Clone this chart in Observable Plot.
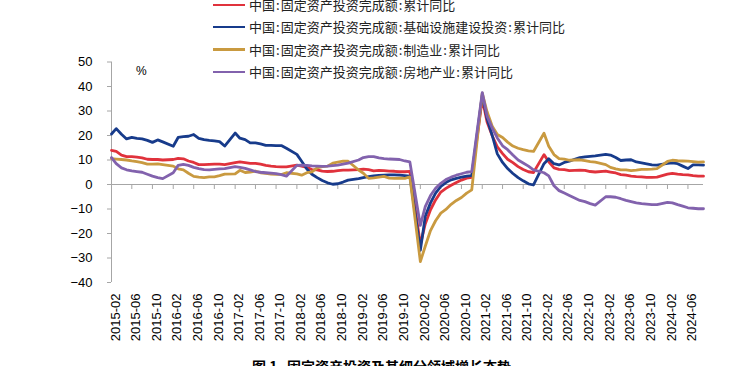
<!DOCTYPE html>
<html><head><meta charset="utf-8">
<script src="https://cdn.jsdelivr.net/npm/d3@7"></script>
<script src="https://cdn.jsdelivr.net/npm/@observablehq/plot@0.6"></script>
<style>
html,body{margin:0;padding:0;background:#fff;overflow:hidden;width:732px;height:366px;}
#wrap{position:relative;width:732px;height:366px;overflow:hidden;}
#chart{position:absolute;left:0;top:0;}
.legend{position:absolute;left:213px;top:0;font-family:"Noto Sans CJK SC",sans-serif;font-size:13px;color:#222;}
.row{position:absolute;left:0;height:14px;line-height:14px;white-space:nowrap;display:flex;align-items:center;}
.swatch{width:32px;height:2.5px;margin-right:4px;}
.colon{margin:0 1px;}
.unit{position:absolute;left:136px;top:64px;font-family:"Liberation Sans",Arial,sans-serif;font-size:12px;color:#000;}
.caption{position:absolute;left:252px;top:359px;font-family:"Noto Sans CJK SC",sans-serif;font-weight:bold;font-size:14px;line-height:14px;white-space:pre;color:#000;}
</style></head>
<body><div id="wrap"><div id="chart"></div></div>
<script>
// series names and colours
const seriesNames = [
  "中国:固定资产投资完成额:累计同比",
  "中国:固定资产投资完成额:基础设施建设投资:累计同比",
  "中国:固定资产投资完成额:制造业:累计同比",
  "中国:固定资产投资完成额:房地产业:累计同比"
];
const seriesColors = ["#e0323c", "#173b8b", "#c99a40", "#8262ad"];

// monthly values Feb..Dec per year (2024: Feb..Sep)
const total = [
  13.9, 13.5, 12.0, 11.4, 11.4, 11.2, 10.9, 10.3, 10.2, 10.2, 10.0,
  10.2, 10.7, 10.5, 9.6, 9.0, 8.1, 8.1, 8.2, 8.3, 8.3, 8.1,
  8.9, 9.2, 8.9, 8.6, 8.6, 8.3, 7.8, 7.5, 7.3, 7.2, 7.2,
  7.9, 7.5, 7.0, 6.1, 6.0, 5.5, 5.3, 5.4, 5.7, 5.9, 5.9,
  6.1, 6.3, 6.1, 5.6, 5.8, 5.7, 5.5, 5.4, 5.2, 5.2, 5.4,
  -24.5, -16.1, -10.3, -6.3, -3.1, -1.6, -0.3, 0.8, 1.8, 2.6, 2.9,
  35.0, 25.6, 19.9, 15.4, 12.6, 10.3, 8.9, 7.3, 6.1, 5.2, 4.9,
  12.2, 9.3, 6.8, 6.2, 6.1, 5.7, 5.8, 5.9, 5.8, 5.3, 5.1,
  5.5, 5.1, 4.7, 4.0, 3.8, 3.4, 3.2, 3.1, 2.9, 2.9, 3.0,
  4.2, 4.5, 4.2, 4.0, 3.9, 3.6, 3.4, 3.4
];
const infra = [
  20.6, 22.8, 20.5, 18.6, 19.2, 18.8, 18.6, 18.0, 17.2, 18.2, 17.4,
  15.6, 19.2, 19.5, 19.7, 20.4, 18.8, 18.3, 18.0, 17.8, 17.5, 15.7,
  21.0, 18.9, 18.3, 17.0, 17.0, 16.6, 16.0, 16.0, 15.9, 15.9, 14.8,
  12.3, 9.5, 6.3, 4.2, 2.8, 1.6, 0.7, 0.1, 0.3, 1.0, 1.8,
  2.4, 2.8, 3.2, 3.5, 3.7, 3.8, 3.9, 3.9, 3.8, 3.6, 3.4,
  -26.9, -13.0, -7.5, -3.5, -0.8, 0.8, 1.9, 2.5, 3.0, 3.4, 3.6,
  36.6, 27.0, 20.0, 12.5, 9.0, 6.5, 4.5, 2.8, 1.5, 0.3, -0.2,
  8.5, 10.5, 8.5, 8.0, 9.0, 9.5, 10.3, 11.0, 11.3, 11.5, 11.7,
  12.3, 12.0, 11.0, 9.8, 10.0, 10.1, 9.2, 8.8, 8.4, 8.0, 7.9,
  8.6, 8.8, 8.5, 7.5, 6.5, 8.0, 8.0, 7.9
];
const manufacturing = [
  10.6, 10.4, 10.2, 10.0, 9.6, 9.3, 8.9, 8.3, 8.3, 8.4, 8.1,
  7.5, 6.4, 6.0, 4.6, 3.3, 3.0, 2.8, 3.1, 3.1, 3.6, 4.2,
  4.3, 5.8, 4.9, 5.1, 5.5, 4.8, 4.5, 4.2, 4.1, 4.1, 4.8,
  4.3, 3.8, 4.8, 5.2, 6.8, 7.3, 7.5, 8.7, 9.1, 9.5, 9.5,
  5.9, 4.6, 2.5, 2.7, 3.0, 3.3, 2.6, 2.5, 2.6, 2.5, 3.1,
  -31.5, -25.2, -18.8, -14.8, -11.7, -10.2, -8.1, -6.5, -5.3, -3.5, -2.2,
  37.3, 29.8, 23.8, 20.4, 19.2, 17.3, 15.7, 14.8, 14.2, 13.7, 13.5,
  20.9, 15.6, 12.2, 10.6, 10.4, 9.9, 10.0, 10.1, 9.7, 9.3, 9.1,
  8.1, 7.0, 6.4, 6.0, 6.0, 5.7, 5.9, 6.2, 6.2, 6.3, 6.5,
  9.4, 9.9, 9.7, 9.6, 9.5, 9.3, 9.1, 9.2
];
const realEstate = [
  11.0, 8.5, 6.8, 6.0, 5.6, 5.3, 5.0, 4.2, 3.4, 2.8, 2.4,
  4.8, 7.8, 8.2, 7.8, 7.0, 6.5, 6.1, 6.0, 6.2, 6.4, 6.5,
  7.3, 7.0, 6.6, 6.0, 5.3, 5.0, 4.8, 4.6, 4.4, 4.0, 3.4,
  7.8, 7.9, 7.8, 7.6, 7.5, 7.4, 7.5, 7.7, 7.9, 8.3, 8.7,
  10.0, 11.0, 11.4, 11.4, 10.9, 10.6, 10.4, 10.3, 10.2, 9.6, 9.2,
  -16.7, -9.0, -4.5, -1.5, 0.5, 2.0, 3.0, 3.8, 4.4, 5.0, 5.3,
  37.5, 28.0, 23.0, 19.0, 15.8, 14.2, 12.0, 10.0, 8.8, 7.5, 6.0,
  4.8, 3.5, -0.5, -2.5, -3.5, -4.5, -5.5, -6.5, -7.0, -7.8, -8.4,
  -5.0, -5.0, -5.2, -5.8, -6.5, -7.0, -7.5, -7.8, -8.0, -8.2, -8.2,
  -7.3, -7.5, -8.2, -8.8, -9.5, -9.7, -9.9, -9.9
];
const yTicks = [-40, -30, -20, -10, 0, 10, 20, 30, 40, 50];

// months: 2015-02 .. 2024-09, January not published
const dates = d3.utcMonth.range(new Date(Date.UTC(2015, 1, 1)), new Date(Date.UTC(2024, 9, 1)))
  .filter(d => d.getUTCMonth() !== 0);
const xTicks = d3.utcMonth.range(new Date(Date.UTC(2015, 1, 1)), new Date(Date.UTC(2024, 6, 1)))
  .filter((d, i) => i % 4 === 0);

const allSeries = [total, infra, manufacturing, realEstate];
const tables = allSeries.map(vals => vals.map((v, i) => ({date: dates[i], value: v})));

const fmt = d3.format("d");
const chart = Plot.plot({
  width: 732,
  height: 366,
  marginTop: 61.5,
  marginBottom: 84,
  marginLeft: 111,
  marginRight: 29,
  style: {fontFamily: "'Liberation Sans', Arial, sans-serif", fontSize: "13px", color: "#000", background: "transparent", overflow: "visible"},
  x: {type: "utc", domain: [dates[0], dates[dates.length - 1]]},
  y: {domain: [-40, 50]},
  marks: [
    Plot.ruleY([0], {stroke: "#a6a6a6", strokeWidth: 1}),
    Plot.ruleX(xTicks, {x: d => d, y1: 0, y2: 0, insetBottom: -5, stroke: "#a6a6a6"}),
    Plot.ruleX([dates[0]], {stroke: "#a6a6a6"}),
    Plot.axisY({ticks: yTicks, tickSize: 4, tickPadding: 15, stroke: "#a6a6a6", fill: "#000", tickFormat: d => fmt(d), label: null}),
    Plot.axisX({ticks: xTicks, anchor: "bottom", tickSize: 0, tickPadding: 11, tickRotate: -90, dx: 4, fill: "#000", tickFormat: d3.utcFormat("%Y-%m"), label: null}),
    ...tables.map((t, k) => Plot.line(t, {x: "date", y: "value", stroke: seriesColors[k], strokeWidth: 2.8, strokeLinejoin: "round", strokeLinecap: "round"}))
  ]
});
const wrap = document.getElementById("wrap");
document.getElementById("chart").appendChild(chart);

// legend
const legend = document.createElement("div");
legend.className = "legend";
const rowCenters = [5, 27, 49.5, 72];
seriesNames.forEach((name, k) => {
  const row = document.createElement("div");
  row.className = "row";
  row.style.top = (rowCenters[k] - 7) + "px";
  const sw = document.createElement("span");
  sw.className = "swatch";
  sw.style.background = seriesColors[k];
  const tx = document.createElement("span");
  name.split(":").forEach((part, j) => {
    if (j > 0) {
      const c = document.createElement("span");
      c.className = "colon";
      c.textContent = ":";
      tx.appendChild(c);
    }
    tx.appendChild(document.createTextNode(part));
  });
  row.appendChild(sw);
  row.appendChild(tx);
  legend.appendChild(row);
});
wrap.appendChild(legend);

const unit = document.createElement("div");
unit.className = "unit";
unit.textContent = "%";
wrap.appendChild(unit);

const cap = document.createElement("div");
cap.className = "caption";
cap.textContent = "图 1   固定资产投资及其细分领域增长态势";
wrap.appendChild(cap);
</script></body></html>
